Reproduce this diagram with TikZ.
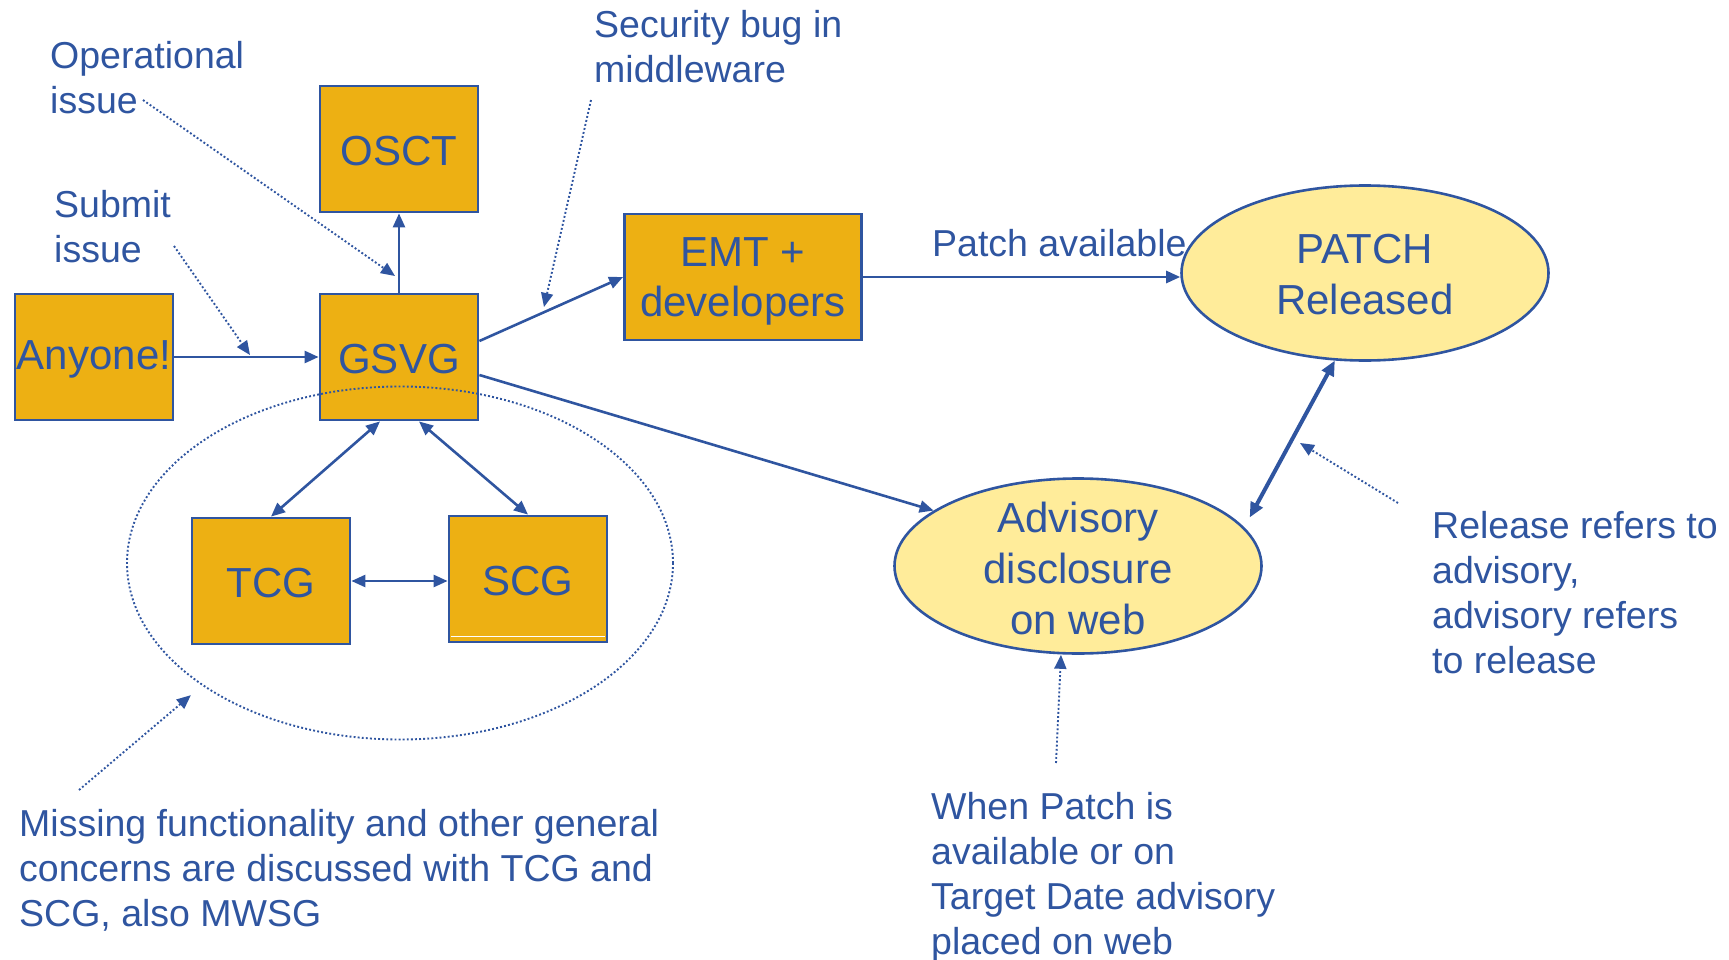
\documentclass[tikz,border=0pt]{standalone}
\usepackage{fontspec}
\setmainfont{Liberation Sans}
\usetikzlibrary{arrows.meta,shapes.geometric}
\definecolor{ink}{RGB}{47,85,160}
\definecolor{boxfill}{RGB}{237,176,19}
\definecolor{ellfill}{RGB}{255,236,154}
\tikzset{
  x=1pt, y=-1pt,
  tip/.style={-{Triangle[length=14pt,width=12pt]}},
  tips/.style={{Triangle[length=14pt,width=12pt]}-{Triangle[length=14pt,width=12pt]}},
  boxtext/.style={text=ink, font=\fontsize{42}{50}\selectfont, align=center, inner sep=0pt},
  orgbox/.style={draw=ink, line width=2.8pt, fill=boxfill, minimum width=158pt, minimum height=126pt, inner sep=0pt},
  ellbox/.style={ellipse, draw=ink, line width=2.6pt, fill=ellfill, minimum width=367pt, minimum height=175pt, inner sep=0pt},
  conn/.style={draw=ink, line width=2.6pt},
  dotline/.style={draw=ink, line width=1.9pt, dash pattern=on 1.9pt off 2.2pt},
  note/.style={text=ink, font=\fontsize{37.5}{45}\selectfont, align=left, inner sep=0pt, anchor=north west},
}
\begin{document}
\begin{tikzpicture}
\useasboundingbox (0,0) rectangle (1729,960);
% boxes
\node[orgbox, label={[boxtext, name=tany, yshift=-2pt]center:Anyone!}] (any)  at (94,357) {};
\node[orgbox, label={[boxtext, name=tgsvg, yshift=-2pt]center:GSVG}] (gsvg) at (399,357) {};
\node[orgbox, label={[boxtext, name=tosct, yshift=-2pt]center:OSCT}] (osct) at (399,149) {};
\node[orgbox, minimum width=237pt, label={[boxtext, name=temt, yshift=-4pt]center:{EMT +\\developers}}] (emt) at (743,277) {};
\node[orgbox, label={[boxtext, name=ttcg, yshift=-2pt]center:TCG}] (tcg)  at (271,581) {};
\node[orgbox, label={[boxtext, name=tscg, yshift=-2pt]center:SCG}] (scg)  at (528,579) {};
\draw[white, line width=1.5pt] ([xshift=3pt,yshift=7pt]scg.south west) -- ([xshift=-3pt,yshift=7pt]scg.south east);
% ellipses
\node[ellbox, label={[boxtext, name=tpatch, font=\fontsize{42}{51}\selectfont, yshift=-2pt]center:{PATCH\\Released}}] (patch) at (1365,273) {};
\node[ellbox, label={[boxtext, name=tadv, font=\fontsize{42}{51}\selectfont, yshift=-2pt]center:{Advisory\\disclosure\\on web}}] (adv) at (1078,566) {};
% group ellipse
\node[ellipse, dotline, minimum width=546pt, minimum height=353pt, inner sep=0pt] (group) at (400,563) {};
% notes
\node[note] (nop) at (50,41) {Operational\\issue};
\node[note] (nsub) at (54,190) {Submit\\issue};
\node[note] (nsec) at (594,10) {Security bug in\\middleware};
\node[note, anchor=base west] (npatch) at (932,256) {Patch available};
\node[note] (nrel) at (1432,511) {Release refers to\\advisory,\\advisory refers\\to release};
\node[note] (nwhen) at (931,792) {When Patch is\\available or on\\Target Date advisory\\placed on web};
\node[note] (nmiss) at (19,809) {Missing functionality and other general\\concerns are discussed with TCG and\\SCG, also MWSG};
% connectors
\draw[conn, tip] (any.east) -- (gsvg.west);
\draw[conn, tip] (gsvg.north) -- (osct.south);
\draw[conn, tip] ([yshift=16pt]gsvg.east) -- (emt.west);
\draw[conn, tip] ([yshift=-18pt]gsvg.east) -- (adv.159);
\draw[conn, tip] (emt.east) -- (emt.east -| patch.west);
\draw[conn, tips] ([xshift=-19pt]gsvg.south) -- (tcg.north);
\draw[conn, tips] ([xshift=20pt]gsvg.south) -- (scg.north);
\draw[conn, tips] (tcg.east) -- (tcg.east -| scg.west);
\draw[draw=ink, line width=4pt, {Triangle[length=15pt,width=13pt]}-{Triangle[length=15pt,width=13pt]}] (patch.251) -- ([shift={(13pt,3pt)}]adv.16);
% dotted pointers
\coordinate (cop) at (143,100);
\coordinate (cop2) at (395,276);
\coordinate (csub) at (174,246);
\coordinate (csub2) at (250,355);
\coordinate (csec) at (591,100);
\coordinate (csec2) at (544,307);
\coordinate (crel) at (1398,503);
\coordinate (crel2) at (1300,443);
\coordinate (cwhen) at (1056,763);
\coordinate (cmiss) at (79,790);
\draw[dotline, tip] (cop) -- (cop2);
\draw[dotline, tip] (csub) -- (csub2);
\draw[dotline, tip] (csec) -- (csec2);
\draw[dotline, tip] (crel) -- (crel2);
\draw[dotline, tip] (cwhen) -- ([xshift=-17pt]adv.south);
\draw[dotline, tip] (cmiss) -- ([shift={(-12pt,-9pt)}]group.212);
\end{tikzpicture}
\end{document}
